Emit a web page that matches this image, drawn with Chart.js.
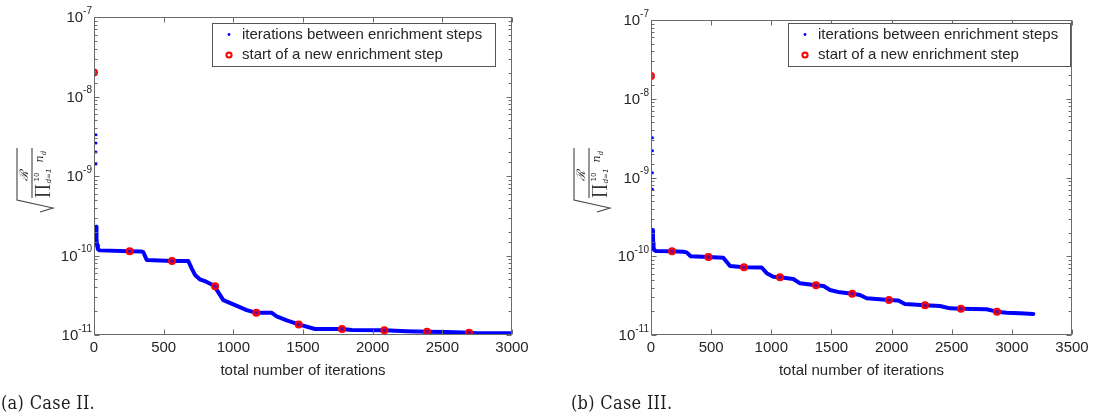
<!DOCTYPE html>
<html><head><meta charset="utf-8">
<script src="https://cdn.jsdelivr.net/npm/chart.js@4"></script>
<style>
body{margin:0;width:1093px;height:417px;background:#fff;position:relative;overflow:hidden;font-family:"Liberation Sans",Arial,sans-serif}
.wrap{position:absolute;top:0;height:417px}
#w1{left:0;width:545px}
#w2{left:557px;width:536px}
.cap{position:absolute;top:393px;line-height:20px;font-family:"DejaVu Serif Condensed","DejaVu Serif",serif;font-size:18px;letter-spacing:0.3px;color:#1e1e1e;white-space:nowrap}
</style></head><body>
<div class="wrap" id="w1"><canvas id="c1"></canvas></div>
<div class="wrap" id="w2"><canvas id="c2"></canvas></div>
<div class="cap" id="cap1" style="left:1px"></div>
<div class="cap" id="cap2" style="left:571px"></div>
<script>
// ---------- data ----------
const legendLabels = ['iterations between enrichment steps', 'start of a new enrichment step'];
const xTitle = 'total number of iterations';
const captions = ['(a) Case II.', '(b) Case III.'];
const yMin = 1e-11, yMax = 1e-7;
const xMaxII = 3000, xMaxIII = 3500, xStep = 500;

// Case II
const caseII_earlyX = [0, 14, 14, 14, 14];
const caseII_earlyY = [2.0e-8, 3.3e-9, 2.6e-9, 2.0e-9, 1.42e-9];
const caseII_curveX = [15,17,19,22,28,40,256,342,354,378,560,677,701,725,761,809,869,881,928,1000,1096,1165,1276,1311,1383,1469,1586,1780,1850,2084,2242,2390,2531,2692,2747,2990];
const caseII_curveY = [2.3e-10,1.9e-10,1.6e-10,1.35e-10,1.2e-10,1.16e-10,1.13e-10,1.12e-10,1.10e-10,8.8e-11,8.5e-11,8.5e-11,6.9e-11,5.7e-11,5.0e-11,4.65e-11,4.1e-11,3.7e-11,2.75e-11,2.43e-11,2.06e-11,1.9e-11,1.9e-11,1.72e-11,1.53e-11,1.36e-11,1.19e-11,1.19e-11,1.156e-11,1.146e-11,1.115e-11,1.10e-11,1.09e-11,1.07e-11,1.05e-11,1.05e-11];
const caseII_stepX = [0,256,560,869,1165,1469,1780,2084,2390,2692];
const caseII_stepY = [2.0e-8,1.13e-10,8.5e-11,4.1e-11,1.9e-11,1.36e-11,1.19e-11,1.146e-11,1.10e-11,1.07e-11];

// Case III
const caseIII_earlyX = [0, 12, 12, 12, 12];
const caseIII_earlyY = [1.95e-8, 3.2e-9, 2.19e-9, 1.15e-9, 7.1e-10];
const caseIII_curveX = [14,16,18,21,26,40,175,269,296,330,477,601,657,773,920,962,1017,1072,1183,1239,1372,1435,1488,1571,1673,1737,1793,1978,2056,2111,2278,2402,2486,2577,2790,2876,2956,3067,3178];
const caseIII_curveY = [2.15e-10,1.8e-10,1.5e-10,1.3e-10,1.2e-10,1.17e-10,1.156e-10,1.14e-10,1.12e-10,1.0e-10,9.8e-11,9.6e-11,7.5e-11,7.24e-11,7.2e-11,6.1e-11,5.5e-11,5.4e-11,5.14e-11,4.53e-11,4.28e-11,4.19e-11,3.73e-11,3.48e-11,3.35e-11,3.22e-11,2.93e-11,2.78e-11,2.75e-11,2.48e-11,2.38e-11,2.33e-11,2.18e-11,2.16e-11,2.12e-11,1.98e-11,1.92e-11,1.89e-11,1.85e-11];
const caseIII_stepX = [0,175,477,773,1072,1372,1673,1978,2278,2577,2876];
const caseIII_stepY = [1.95e-8,1.156e-10,9.8e-11,7.24e-11,5.4e-11,4.28e-11,3.35e-11,2.78e-11,2.38e-11,2.16e-11,1.98e-11];

// ---------- helpers ----------
const pts = (xs, ys) => xs.map((x, i) => ({x, y: ys[i]}));
const isDecade = v => Math.abs(Math.log10(v) - Math.round(Math.log10(v))) < 1e-6;
const BLUE = 'rgb(0,0,255)', RED = 'rgb(255,0,0)', AX = '#6a6a6a', TXT = '#262626';
const FONT = '"Liberation Sans", Arial, sans-serif';

document.getElementById('cap1').textContent = captions[0];
document.getElementById('cap2').textContent = captions[1];

const framePlugin = {
  id: 'frame',
  afterDraw(chart, args, o) {
    const ctx = chart.ctx, a = chart.chartArea;
    const xs = chart.scales.x, ys = chart.scales.y;
    ctx.save();
    ctx.strokeStyle = AX; ctx.lineWidth = 1;
    const L = Math.round(a.left) + 0.5, R = Math.round(a.right) - 0.5, T = Math.round(a.top) + 0.5, B = Math.round(a.bottom) - 0.5;
    ctx.strokeRect(L, T, R - L, B - T);
    ctx.beginPath();
    xs.ticks.forEach(t => {
      const px = Math.round(xs.getPixelForValue(t.value)) + 0.5;
      ctx.moveTo(px, B); ctx.lineTo(px, B - 5);
      ctx.moveTo(px, T); ctx.lineTo(px, T + 5);
    });
    ys.ticks.forEach(t => {
      const py = Math.round(ys.getPixelForValue(t.value)) + 0.5;
      const len = isDecade(t.value) ? 5 : 3;
      ctx.moveTo(L, py); ctx.lineTo(L + len, py);
      ctx.moveTo(R, py); ctx.lineTo(R - len, py);
    });
    ctx.stroke();

    // y tick labels: 10 with superscript exponent
    ctx.fillStyle = TXT; ctx.textAlign = 'right';
    ys.ticks.forEach(t => {
      if (!isDecade(t.value)) return;
      const py = ys.getPixelForValue(t.value);
      const ex = String(Math.round(Math.log10(t.value)));
      ctx.font = '10px ' + FONT; ctx.textBaseline = 'middle';
      const ew = ctx.measureText(ex).width;
      ctx.fillText(ex, a.left - 2, py - 6);
      ctx.font = '15px ' + FONT;
      ctx.fillText('10', a.left - 2 - ew, py + 1);
    });

    // legend
    const lg = o.legend;
    ctx.fillStyle = '#fff';
    ctx.fillRect(lg.left, lg.top, lg.width, lg.height);
    ctx.strokeStyle = '#555';
    ctx.strokeRect(lg.left + 0.5, lg.top + 0.5, lg.width, lg.height);
    const mx = lg.left + 17, y1 = lg.top + 11.5, y2 = lg.top + 32;
    ctx.fillStyle = BLUE;
    ctx.beginPath(); ctx.arc(mx, y1, 1.4, 0, Math.PI * 2); ctx.fill();
    ctx.strokeStyle = RED; ctx.lineWidth = 2;
    ctx.beginPath(); ctx.arc(mx, y2, 2.6, 0, Math.PI * 2); ctx.stroke();
    ctx.fillStyle = TXT; ctx.font = '15px ' + FONT; ctx.textBaseline = 'middle'; ctx.textAlign = 'left';
    ctx.fillText(legendLabels[0], lg.left + 30, y1);
    ctx.fillText(legendLabels[1], lg.left + 30, y2);

    // y-axis label: sqrt( R / prod_{d=1}^{10} n_d )
    ctx.translate(a.left - 77, 212);
    ctx.rotate(-Math.PI / 2);
    ctx.strokeStyle = '#444'; ctx.lineWidth = 1.1;
    ctx.beginPath();
    ctx.moveTo(64, 0); ctx.lineTo(12, 0); ctx.lineTo(4, 36); ctx.lineTo(0, 23);
    ctx.moveTo(14, 15); ctx.lineTo(64, 15);
    ctx.stroke();
    ctx.fillStyle = '#333'; ctx.textAlign = 'center'; ctx.textBaseline = 'middle';
    ctx.font = 'italic 12px "DejaVu Serif", serif';
    ctx.fillText('ℛ', 36, 8);
    ctx.font = '17px "DejaVu Serif", serif';
    ctx.fillText('∏', 21, 26);
    ctx.font = '7px "DejaVu Sans", sans-serif';
    ctx.fillText('10', 35, 20);
    ctx.font = 'italic 7px "DejaVu Sans", sans-serif';
    ctx.fillText('d=1', 36, 32);
    ctx.font = 'italic 11px "DejaVu Serif", serif';
    ctx.fillText('n', 53, 23);
    ctx.font = 'italic 7px "DejaVu Serif", serif';
    ctx.fillText('d', 59, 27);
    ctx.restore();
  }
};

function makeChart(id, cfg) {
  return new Chart(document.getElementById(id), {
    type: 'scatter',
    data: {
      datasets: [
        { label: legendLabels[1], data: pts(cfg.stepX, cfg.stepY), pointRadius: 3, pointBorderWidth: 2,
          pointBorderColor: RED, pointBackgroundColor: 'rgba(200,0,60,0.55)', showLine: false },
        { label: legendLabels[0], data: pts(cfg.earlyX, cfg.earlyY), pointRadius: 1.5, pointBorderWidth: 0,
          pointBackgroundColor: BLUE, showLine: false },
        { label: legendLabels[0], data: pts(cfg.curveX, cfg.curveY), showLine: true, pointRadius: 0,
          borderColor: BLUE, borderWidth: 4, borderCapStyle: 'round', borderJoinStyle: 'round', tension: 0 }
      ]
    },
    options: {
      responsive: true, maintainAspectRatio: false, animation: false,
      layout: { padding: { left: 0, top: cfg.padTop, right: cfg.padRight, bottom: 37 } },
      plugins: { legend: { display: false }, tooltip: { enabled: false }, frame: { legend: cfg.legend } },
      scales: {
        x: {
          type: 'linear', min: 0, max: cfg.xMax,
          grid: { display: false, drawTicks: false }, border: { display: false },
          ticks: { stepSize: xStep, padding: 4, color: TXT, font: { size: 15, family: FONT }, maxRotation: 0,
            callback: v => String(v) },
          title: { display: true, text: xTitle, color: TXT, font: { size: 15, family: FONT }, padding: 0 },
          afterFit(s) { s.height = 45; }
        },
        y: {
          type: 'logarithmic', min: yMin, max: yMax,
          grid: { display: false, drawTicks: false }, border: { display: false },
          ticks: { autoSkip: false, padding: 2, color: TXT, font: { size: 15, family: FONT },
            callback: () => '' },
          afterFit(s) { s.width = 94; }
        }
      }
    },
    plugins: [framePlugin]
  });
}

makeChart('c1', { earlyX: caseII_earlyX, earlyY: caseII_earlyY, curveX: caseII_curveX, curveY: caseII_curveY,
  stepX: caseII_stepX, stepY: caseII_stepY, xMax: xMaxII, padTop: 17, padRight: 33,
  legend: { left: 212, top: 23, width: 283, height: 43 } });
makeChart('c2', { earlyX: caseIII_earlyX, earlyY: caseIII_earlyY, curveX: caseIII_curveX, curveY: caseIII_curveY,
  stepX: caseIII_stepX, stepY: caseIII_stepY, xMax: xMaxIII, padTop: 20, padRight: 21,
  legend: { left: 231, top: 23, width: 282, height: 43 } });
</script>
</body></html>
